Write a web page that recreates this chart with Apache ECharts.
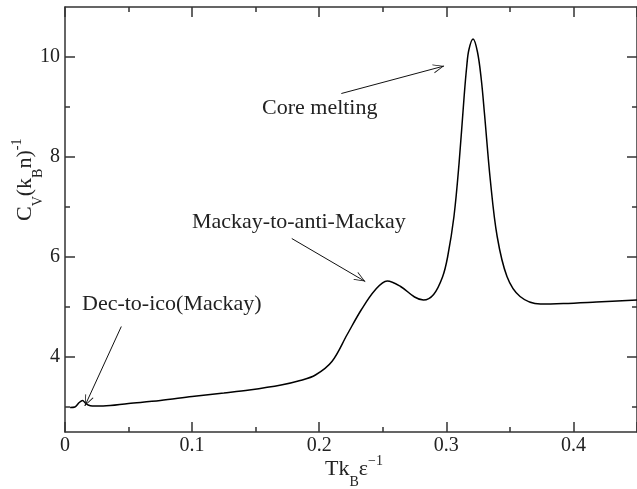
<!DOCTYPE html>
<html>
<head>
<meta charset="utf-8">
<script src="https://cdn.jsdelivr.net/npm/echarts@6/dist/echarts.min.js"></script>
<style>
  html, body { margin: 0; padding: 0; background: #fff; }
  #main { width: 637px; height: 489px; }
</style>
</head>
<body>
<div id="main"></div>
<script>
// specific heat curve
var tempValues = [0.004, 0.0078, 0.0112, 0.0138, 0.016, 0.0182, 0.0215, 0.0247, 0.030, 0.050, 0.075, 0.100, 0.125,
  0.145, 0.170, 0.185, 0.197, 0.210, 0.222, 0.233, 0.244, 0.2535, 0.264, 0.275, 0.282, 0.290, 0.297, 0.301,
  0.306, 0.310, 0.314, 0.316, 0.3177, 0.321, 0.3245, 0.3275, 0.330, 0.3346, 0.340, 0.3477, 0.358, 0.374,
  0.392, 0.418, 0.45];
var cvValues = [2.99, 3.0, 3.09, 3.13, 3.08, 3.04, 3.02, 3.02, 3.02, 3.07, 3.13, 3.21, 3.28,
  3.34, 3.44, 3.53, 3.64, 3.91, 4.45, 4.94, 5.34, 5.52, 5.41, 5.20, 5.14, 5.25, 5.60, 6.00,
  6.81, 7.87, 9.21, 9.80, 10.14, 10.36, 10.10, 9.55, 8.87, 7.54, 6.41, 5.61, 5.21, 5.06,
  5.07, 5.10, 5.14];

var yMajorTicks = [4, 6, 8, 10];
var yMinorTicks = [3, 5, 7, 9];

// annotations: text + arrow (tail -> head, data coords)
var notes = [
  { text: 'Core melting', from: [0.2174, 9.27], to: [0.2982, 9.82] },
  { text: 'Mackay-to-anti-Mackay', from: [0.1784, 6.37], to: [0.2362, 5.51] },
  { text: 'Dec-to-ico(Mackay)', from: [0.0443, 4.61], to: [0.0156, 3.02] }
];
var notePos = [[262, 108], [192, 222], [82, 304]];

var SERIF = '"Liberation Serif", "Times New Roman", serif';
var INK = '#222';
var AXIS = '#333';

var ctx = document.createElement('canvas').getContext('2d');
function textWidth(str, size) {
  ctx.font = size + 'px ' + SERIF;
  return ctx.measureText(str).width;
}

// title with sub/superscripts, laid out along a baseline
function scriptTitle(pieces, x0, y0, rot) {
  var kinds = {
    main: { size: 22, dy: -7.4 },
    sub: { size: 14, dy: 5.3 },
    sup: { size: 14, dy: -15.2 }
  };
  var lx = 0, kids = [];
  pieces.forEach(function (p) {
    var k = kinds[p[1]];
    kids.push({
      type: 'text', x: lx, y: k.dy,
      style: { text: p[0], fontSize: k.size, fontFamily: SERIF, fill: INK, align: 'left', verticalAlign: 'middle' }
    });
    lx += textWidth(p[0], k.size);
  });
  return { type: 'group', x: x0, y: y0, rotation: rot, children: kids, silent: true };
}

var seriesData = tempValues.map(function (t, i) { return [t, cvValues[i]]; });

// open arrow head, tip at the symbol centre
var arrowHead = 'path://M5,12 L10,24 L9,24 L5,14 L1,24 L0,24 Z M5,0 L5.01,0 L5,0.01 Z';

var tickStyle = { color: AXIS, width: 1.5 };

function xAxisCfg(pos, labels) {
  return {
    type: 'value', position: pos, min: 0, max: 0.45, interval: 0.1,
    axisLine: { show: true, lineStyle: tickStyle },
    axisTick: { show: true, inside: true, length: 10, lineStyle: tickStyle },
    minorTick: { show: true, splitNumber: 2, length: 5, lineStyle: tickStyle },
    axisLabel: { show: labels, fontFamily: SERIF, fontSize: 20, color: INK, margin: 4, showMaxLabel: false },
    splitLine: { show: false }
  };
}
function yAxisCfg(pos, ticks, len, line, labels) {
  return {
    type: 'value', position: pos, min: 2.5, max: 11,
    axisLine: { show: line, lineStyle: tickStyle },
    axisTick: { show: true, inside: true, length: len, lineStyle: tickStyle, customValues: ticks },
    axisLabel: { show: labels, customValues: ticks, fontFamily: SERIF, fontSize: 20, color: INK, margin: 5 },
    splitLine: { show: false }
  };
}

var myChart = echarts.init(document.getElementById('main'), null, { renderer: 'canvas' });
var option = {
  animation: false,
  backgroundColor: '#fff',
  grid: { left: 65, right: -4, top: 7, bottom: 57, containLabel: false },
  xAxis: [xAxisCfg('bottom', true), xAxisCfg('top', false)],
  yAxis: [
    yAxisCfg('left', yMajorTicks, 10, true, true),
    yAxisCfg('left', yMinorTicks, 5, false, false),
    yAxisCfg('right', yMajorTicks, 10, true, false),
    yAxisCfg('right', yMinorTicks, 5, false, false)
  ],
  series: [{
    type: 'line',
    xAxisIndex: 0, yAxisIndex: 0,
    data: seriesData,
    showSymbol: false,
    smooth: 0.35,
    lineStyle: { color: '#000', width: 1.5 },
    silent: true,
    markLine: {
      silent: true,
      symbol: ['none', arrowHead],
      symbolSize: [9, 22],
      label: { show: false },
      lineStyle: { color: '#111', width: 1, type: 'solid' },
      emphasis: { disabled: true },
      data: notes.map(function (n) {
        return [{ coord: n.from }, { coord: n.to }];
      })
    }
  }],
  graphic: notes.map(function (n, i) {
    return {
      type: 'text', x: notePos[i][0], y: notePos[i][1], silent: true,
      style: { text: n.text, fontSize: 22, fontFamily: SERIF, fill: INK, align: 'left', verticalAlign: 'middle' }
    };
  }).concat([
    scriptTitle([['Tk', 'main'], ['B', 'sub'], ['\u03b5', 'main'], ['\u22121', 'sup']], 325, 477, 0),
    scriptTitle([['C', 'main'], ['V', 'sub'], ['(k', 'main'], ['B', 'sub'], ['n)', 'main'], ['-1', 'sup']], 33, 221, Math.PI / 2)
  ])
};
myChart.setOption(option);
</script>
</body>
</html>
